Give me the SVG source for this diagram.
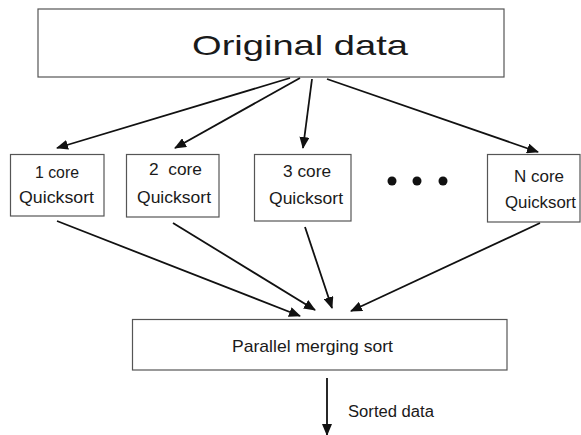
<svg xmlns="http://www.w3.org/2000/svg" width="581" height="435" viewBox="0 0 581 435">
<style>
.box{fill:#fff;stroke:#555;stroke-width:1.2}
.t{font-family:"Liberation Sans",Arial,sans-serif;fill:#1a1a1a}
.s{font-size:17px}
.c{stroke:#111;stroke-width:1.8;fill:none;marker-end:url(#ah)}
</style>
<defs>
<marker id="ah" markerUnits="userSpaceOnUse" markerWidth="12" markerHeight="10" refX="11" refY="5" orient="auto">
<path d="M0,0 L12,5 L0,10 z" fill="#111"/>
</marker>
</defs>
<rect width="581" height="435" fill="#fff"/>
<g id="original">
<rect class="box" x="38" y="9" width="466" height="68"/>
<text class="t" x="192" y="55" font-size="28" textLength="216" lengthAdjust="spacingAndGlyphs">Original data</text>
</g>
<g id="core1">
<rect class="box" x="10.5" y="154.5" width="93.5" height="61.5"/>
<text class="t s" x="35" y="178" textLength="44" lengthAdjust="spacingAndGlyphs">1 core</text>
<text class="t s" x="19" y="203" textLength="75" lengthAdjust="spacingAndGlyphs">Quicksort</text>
</g>
<g id="core2">
<rect class="box" x="126.5" y="154.5" width="92.5" height="62.5"/>
<text class="t s" x="149" y="175" textLength="53" lengthAdjust="spacingAndGlyphs" xml:space="preserve">2  core</text>
<text class="t s" x="137" y="203" textLength="74" lengthAdjust="spacingAndGlyphs">Quicksort</text>
</g>
<g id="core3">
<rect class="box" x="254.5" y="154.5" width="96.5" height="66.5"/>
<text class="t s" x="283" y="177" textLength="48" lengthAdjust="spacingAndGlyphs">3 core</text>
<text class="t s" x="269" y="204" textLength="74" lengthAdjust="spacingAndGlyphs">Quicksort</text>
</g>
<g id="dots" fill="#111">
<circle cx="392" cy="181" r="4.5"/>
<circle cx="417" cy="181" r="4.5"/>
<circle cx="443" cy="181" r="4.5"/>
</g>
<g id="coreN">
<rect class="box" x="487.5" y="154.5" width="92.5" height="67.5"/>
<text class="t s" x="514" y="182" textLength="50" lengthAdjust="spacingAndGlyphs">N core</text>
<text class="t s" x="505" y="208" textLength="71" lengthAdjust="spacingAndGlyphs">Quicksort</text>
</g>
<g id="merge">
<rect class="box" x="132.5" y="319.5" width="374.5" height="50.5"/>
<text class="t s" x="232" y="352" textLength="161" lengthAdjust="spacingAndGlyphs">Parallel merging sort</text>
</g>
<g id="connectors">
<line class="c" x1="290" y1="78" x2="57" y2="148"/>
<line class="c" x1="300" y1="78" x2="175" y2="148"/>
<line class="c" x1="312" y1="79" x2="303" y2="148"/>
<line class="c" x1="327" y1="79" x2="538" y2="152"/>
<line class="c" x1="57" y1="221" x2="300" y2="316"/>
<line class="c" x1="173" y1="223" x2="315" y2="310"/>
<line class="c" x1="305" y1="227" x2="332" y2="308"/>
<line class="c" x1="540" y1="223" x2="351" y2="311"/>
<line class="c" x1="327" y1="378" x2="327" y2="435"/>
</g>
<text class="t" x="348" y="417" font-size="16" textLength="86" lengthAdjust="spacingAndGlyphs">Sorted data</text>
</svg>
